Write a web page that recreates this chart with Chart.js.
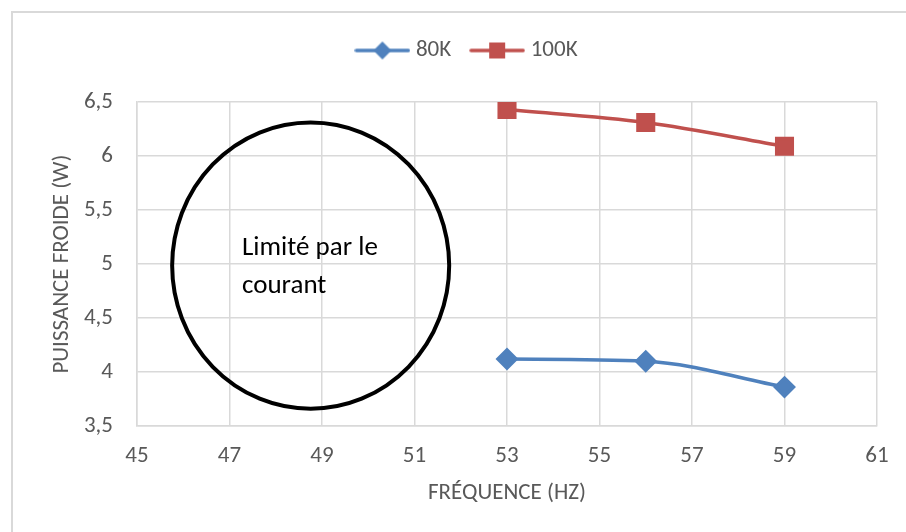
<!DOCTYPE html>
<html>
<head>
<meta charset="utf-8">
<script src="https://cdn.jsdelivr.net/npm/chart.js@4.4.1/dist/chart.umd.min.js"></script>
<style>
  html, body { margin: 0; padding: 0; background: #fff; overflow: hidden; }
  #wrap { position: relative; width: 906px; height: 532px; }
  #frame { position: absolute; left: 11px; top: 11px; width: 1000px; height: 1000px; border: 2px solid #d9d9d9; box-sizing: border-box; }
  #cakeChart { position: absolute; left: 0; top: 0; }
</style>
</head>
<body>
<div id="wrap">
  <div id="frame"></div>
  <canvas id="cakeChart" width="906" height="532"></canvas>
</div>
<script>
// data
const frequencies = [53, 56, 59];
const puissance80K = [4.12, 4.10, 3.86];
const puissance100K = [6.43, 6.31, 6.09];
const seriesNames = ['80K', '100K'];
const xTicks = [45, 61, 2];      // min, max, step
const yTicks = [3.5, 6.5, 0.5];  // min, max, step

// annotation "Limité par le courant", in data units
const zoneX = [45.76, 51.75];
const zoneY = [3.66, 6.31];
const zoneText = ['Limité par le', 'courant'];
const zoneTextAt = [47.27, 5.15, 4.79];

const FONT = 'Carlito, Calibri, Lato, sans-serif';
const blue = '#4f81bd';
const red = '#c0504d';

const legendIcon = function (colour, diamond) {
    const c = document.createElement('canvas');
    c.width = 56; c.height = 20;
    const g = c.getContext('2d');
    g.strokeStyle = colour;
    g.lineWidth = 3.5;
    g.lineCap = 'round';
    g.beginPath(); g.moveTo(2, 10); g.lineTo(54, 10); g.stroke();
    g.fillStyle = colour;
    g.beginPath();
    if (diamond) {
        g.moveTo(28, 1); g.lineTo(37, 10); g.lineTo(28, 19); g.lineTo(19, 10);
    } else {
        g.rect(20, 2, 16, 16);
    }
    g.closePath(); g.fill();
    return c;
};

const toPoints = function (values) {
    return values.map((v, i) => ({x: frequencies[i], y: v}));
};

const zonePlugin = {
    id: 'zone',
    afterDatasetsDraw(chart) {
        const ctx = chart.ctx;
        const x = chart.scales.x, y = chart.scales.y;
        const x0 = x.getPixelForValue(zoneX[0]), x1 = x.getPixelForValue(zoneX[1]);
        const y0 = y.getPixelForValue(zoneY[1]), y1 = y.getPixelForValue(zoneY[0]);
        ctx.save();
        ctx.strokeStyle = '#000';
        ctx.lineWidth = 4;
        ctx.beginPath();
        ctx.ellipse((x0 + x1) / 2, (y0 + y1) / 2, (x1 - x0) / 2, (y1 - y0) / 2, 0, 0, Math.PI * 2);
        ctx.stroke();
        ctx.fillStyle = '#000';
        ctx.font = '27px ' + FONT;
        ctx.textBaseline = 'middle';
        ctx.textAlign = 'left';
        const tx = x.getPixelForValue(zoneTextAt[0]);
        ctx.fillText(zoneText[0], tx, y.getPixelForValue(zoneTextAt[1]));
        ctx.fillText(zoneText[1], tx, y.getPixelForValue(zoneTextAt[2]));
        ctx.restore();
    }
};

// more room under the legend, and nudge it right like the original
const legendGap = {
    id: 'legendGap',
    beforeInit(chart) {
        const fit = chart.legend.fit;
        chart.legend.fit = function () {
            fit.bind(chart.legend)();
            this.height += 30;
        };
    },
    afterLayout(chart) {
        chart.legend.left += 49;
    }
};

const icons = [legendIcon(blue, true), legendIcon(red, false)];

const ctx = document.getElementById('cakeChart').getContext('2d');
const myChart = new Chart(ctx, {
    type: 'line',
    data: {
        datasets: [{
            label: seriesNames[0],
            data: toPoints(puissance80K),
            borderColor: blue,
            backgroundColor: blue,
            borderWidth: 3.5,
            pointStyle: 'rectRot',
            pointRadius: 9,
            pointHoverRadius: 9,
            cubicInterpolationMode: 'monotone'
        }, {
            label: seriesNames[1],
            data: toPoints(puissance100K),
            borderColor: red,
            backgroundColor: red,
            borderWidth: 3.5,
            pointStyle: 'rect',
            pointRadius: 11,
            pointHoverRadius: 11,
            cubicInterpolationMode: 'monotone'
        }]
    },
    options: {
        responsive: false,
        animation: false,
        layout: {padding: {top: 15, left: 12, right: 29, bottom: 0}},
        plugins: {
            tooltip: {enabled: false},
            legend: {
                labels: {
                    usePointStyle: true,
                    pointStyleWidth: 44,
                    padding: 24,
                    color: '#595959',
                    font: {family: FONT, size: 23},
                    generateLabels: function (chart) {
                        return chart.data.datasets.map((d, i) => ({
                            text: d.label,
                            pointStyle: icons[i],
                            fontColor: '#595959',
                            strokeStyle: d.borderColor,
                            fillStyle: d.backgroundColor,
                            lineWidth: 0,
                            datasetIndex: i
                        }));
                    }
                }
            }
        },
        scales: {
            x: {
                type: 'linear',
                min: xTicks[0],
                max: xTicks[1],
                afterFit: function (scale) { scale.height = 106; },
                ticks: {stepSize: xTicks[2], color: '#595959', padding: 16, font: {family: FONT, size: 23}},
                grid: {color: '#d9d9d9', lineWidth: 1.5, drawTicks: false},
                border: {color: '#d9d9d9', width: 1.5},
                title: {display: true, text: 'FRÉQUENCE (HZ)', color: '#595959', font: {family: FONT, size: 23}, padding: {top: 0, bottom: 25}}
            },
            y: {
                min: yTicks[0],
                max: yTicks[1],
                afterFit: function (scale) { scale.width = 125; },
                ticks: {
                    stepSize: yTicks[2],
                    color: '#595959',
                    padding: 24,
                    font: {family: FONT, size: 23},
                    callback: function (value) { return String(value).replace('.', ','); }
                },
                grid: {color: '#d9d9d9', lineWidth: 1.5, drawTicks: false},
                border: {color: '#d9d9d9', width: 1.5},
                title: {display: true, text: 'PUISSANCE FROIDE (W)', color: '#595959', font: {family: FONT, size: 23}, padding: {top: 36, bottom: 0}}
            }
        }
    },
    plugins: [zonePlugin, legendGap]
});
</script>
</body>
</html>
